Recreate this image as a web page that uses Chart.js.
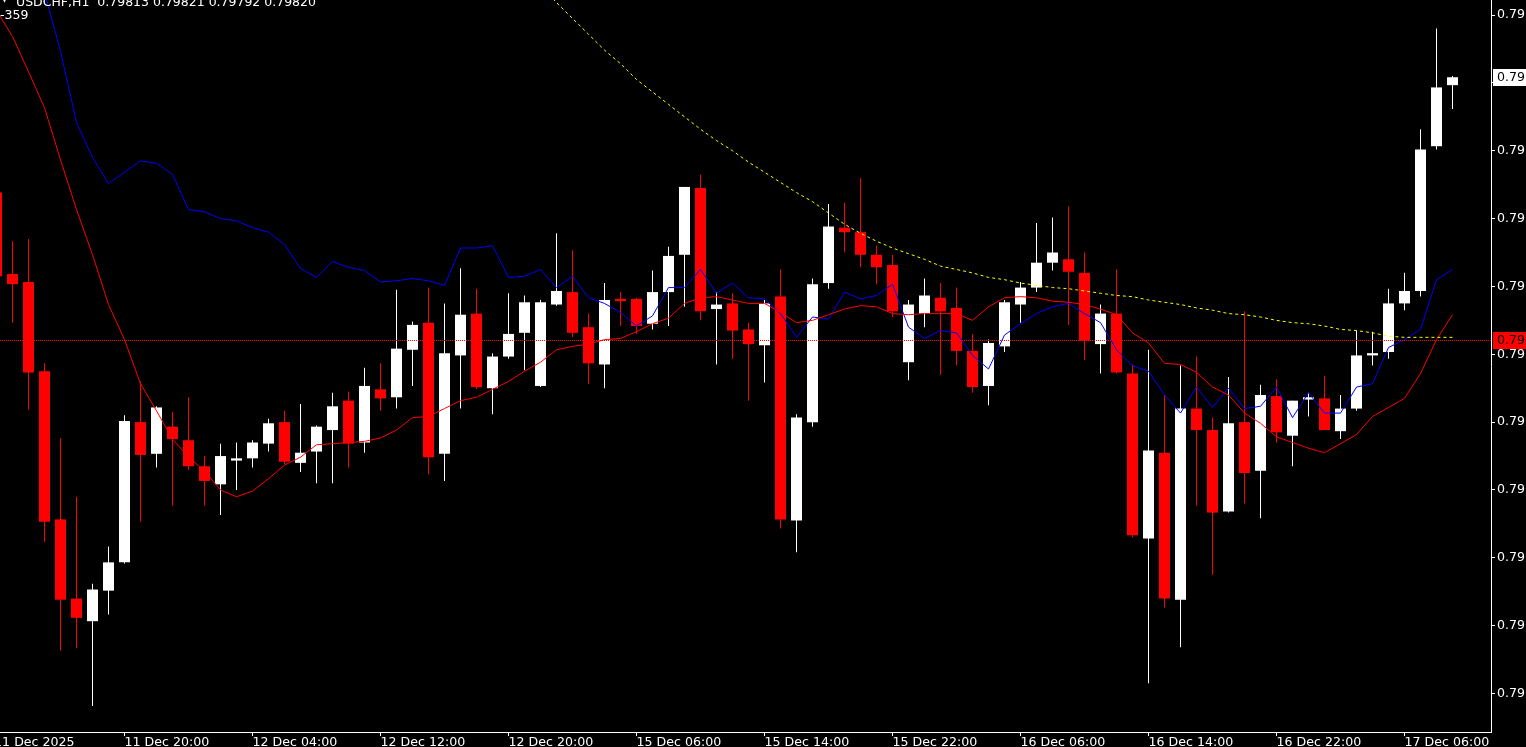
<!DOCTYPE html>
<html>
<head>
<meta charset="utf-8">
<title>USDCHF,H1</title>
<script src="https://cdn.jsdelivr.net/npm/chart.js@4.4.1/dist/chart.umd.min.js"></script>
<style>
html,body{margin:0;padding:0;background:#000;overflow:hidden;}
#wrap{position:relative;width:1526px;height:747px;}
canvas{display:block;}
</style>
</head>
<body>
<div id="wrap"><canvas id="chart" width="1526" height="747"></canvas></div>
<script>
// ---------------- data ----------------
const symbolLabel = 'USDCHF,H1';
const headerOHLC = ['0.79813', '0.79821', '0.79792', '0.79820'];
const subWindowText = '-359';

// hourly bars, index 0 = 11 Dec 12:00 ... index 91 = 17 Dec 09:00
const openPrices = [
  0.79718, 0.79646, 0.79639, 0.79560, 0.79429, 0.79359, 0.79339, 0.79366, 0.79391, 0.79515,
  0.79487, 0.79511, 0.79499, 0.79476, 0.79460, 0.79481, 0.79483, 0.79496, 0.79515, 0.79479,
  0.79489, 0.79508, 0.79534, 0.79497, 0.79544, 0.79537, 0.79579, 0.79603, 0.79487, 0.79574,
  0.79611, 0.79545, 0.79573, 0.79594, 0.79547, 0.79619, 0.79630, 0.79599, 0.79566, 0.79624,
  0.79624, 0.79602, 0.79630, 0.79663, 0.79722, 0.79615, 0.79620, 0.79597, 0.79583, 0.79626,
  0.79428, 0.79515, 0.79638, 0.79687, 0.79683, 0.79663, 0.79654, 0.79568, 0.79611, 0.79625,
  0.79616, 0.79578, 0.79547, 0.79582, 0.79619, 0.79634, 0.79656, 0.79659, 0.79647, 0.79584,
  0.79611, 0.79558, 0.79412, 0.79488, 0.79358, 0.79527, 0.79508, 0.79436, 0.79515, 0.79472,
  0.79538, 0.79503, 0.79535, 0.79536, 0.79507, 0.79527, 0.79574, 0.79577, 0.79620, 0.79631,
  0.79759, 0.79813
];
const highPrices = [
  0.79722, 0.79675, 0.79677, 0.79567, 0.79501, 0.79449, 0.79372, 0.79405, 0.79521, 0.79551,
  0.79529, 0.79524, 0.79537, 0.79485, 0.79496, 0.79497, 0.79499, 0.79518, 0.79525, 0.79531,
  0.79512, 0.79541, 0.79542, 0.79563, 0.79567, 0.79632, 0.79604, 0.79634, 0.79620, 0.79651,
  0.79633, 0.79576, 0.79629, 0.79627, 0.79623, 0.79682, 0.79667, 0.79611, 0.79638, 0.79630,
  0.79625, 0.79649, 0.79670, 0.79723, 0.79734, 0.79630, 0.79629, 0.79603, 0.79623, 0.79650,
  0.79522, 0.79642, 0.79708, 0.79709, 0.79731, 0.79671, 0.79663, 0.79623, 0.79642, 0.79638,
  0.79634, 0.79593, 0.79588, 0.79623, 0.79639, 0.79691, 0.79696, 0.79706, 0.79665, 0.79619,
  0.79650, 0.79566, 0.79579, 0.79539, 0.79565, 0.79573, 0.79519, 0.79555, 0.79613, 0.79548,
  0.79553, 0.79534, 0.79541, 0.79556, 0.79539, 0.79596, 0.79595, 0.79633, 0.79647, 0.79774,
  0.79863, 0.79821
];
const lowPrices = [
  0.79641, 0.79603, 0.79526, 0.79409, 0.79313, 0.79315, 0.79264, 0.79345, 0.79390, 0.79427,
  0.79475, 0.79441, 0.79473, 0.79441, 0.79433, 0.79455, 0.79475, 0.79489, 0.79478, 0.79471,
  0.79461, 0.79461, 0.79475, 0.79488, 0.79525, 0.79527, 0.79547, 0.79469, 0.79463, 0.79527,
  0.79544, 0.79522, 0.79571, 0.79561, 0.79546, 0.79618, 0.79590, 0.79549, 0.79545, 0.79600,
  0.79593, 0.79597, 0.79600, 0.79617, 0.79605, 0.79566, 0.79571, 0.79534, 0.79550, 0.79421,
  0.79400, 0.79511, 0.79633, 0.79665, 0.79652, 0.79637, 0.79608, 0.79552, 0.79599, 0.79557,
  0.79565, 0.79541, 0.79530, 0.79577, 0.79603, 0.79630, 0.79649, 0.79601, 0.79570, 0.79558,
  0.79558, 0.79413, 0.79284, 0.79351, 0.79316, 0.79441, 0.79380, 0.79435, 0.79443, 0.79430,
  0.79497, 0.79476, 0.79520, 0.79508, 0.79500, 0.79525, 0.79565, 0.79571, 0.79614, 0.79626,
  0.79756, 0.79792
];
const closePrices = [
  0.79644, 0.79637, 0.79559, 0.79427, 0.79358, 0.79342, 0.79367, 0.79391, 0.79516, 0.79486,
  0.79528, 0.79500, 0.79476, 0.79463, 0.79485, 0.79483, 0.79497, 0.79514, 0.79480, 0.79488,
  0.79511, 0.79529, 0.79496, 0.79547, 0.79536, 0.79580, 0.79601, 0.79484, 0.79576, 0.79610,
  0.79546, 0.79573, 0.79593, 0.79621, 0.79621, 0.79631, 0.79594, 0.79567, 0.79623, 0.79622,
  0.79600, 0.79630, 0.79662, 0.79723, 0.79613, 0.79619, 0.79596, 0.79584, 0.79620, 0.79429,
  0.79519, 0.79637, 0.79688, 0.79683, 0.79663, 0.79652, 0.79613, 0.79619, 0.79627, 0.79613,
  0.79578, 0.79546, 0.79585, 0.79621, 0.79634, 0.79656, 0.79665, 0.79648, 0.79587, 0.79611,
  0.79559, 0.79415, 0.79490, 0.79359, 0.79527, 0.79508, 0.79435, 0.79514, 0.79470, 0.79539,
  0.79506, 0.79534, 0.79537, 0.79508, 0.79527, 0.79574, 0.79576, 0.79620, 0.79631, 0.79756,
  0.79811, 0.79820
];
// red moving average
const redMA = [
  0.79879, 0.79856, 0.79825, 0.79793, 0.79747, 0.79703, 0.79663, 0.79619, 0.79588, 0.79549,
  0.79525, 0.79500, 0.79484, 0.79472, 0.79455, 0.79449, 0.79454, 0.79465, 0.79477, 0.79484,
  0.79495, 0.79496, 0.79497, 0.79498, 0.79501, 0.79508, 0.79519, 0.79520, 0.79527, 0.79534,
  0.79537, 0.79544, 0.79551, 0.79560, 0.79568, 0.79579, 0.79582, 0.79584, 0.79588, 0.79589,
  0.79595, 0.79602, 0.79607, 0.79620, 0.79625, 0.79626, 0.79623, 0.79620, 0.79620, 0.79612,
  0.79603, 0.79605, 0.79610, 0.79615, 0.79618, 0.79617, 0.79611, 0.79610, 0.79611, 0.79611,
  0.79611, 0.79605, 0.79617, 0.79625, 0.79626, 0.79625, 0.79622, 0.79621, 0.79619, 0.79615,
  0.79610, 0.79594, 0.79585, 0.79567, 0.79566, 0.79559, 0.79546, 0.79539, 0.79523, 0.79514,
  0.79502, 0.79497, 0.79492, 0.79488, 0.79496, 0.79504, 0.79520, 0.79528, 0.79536, 0.79558,
  0.79588, 0.79610
];
// blue moving average
const blueMA = [
  null,    null,    null,    0.79895, 0.79843, 0.79780, 0.79749, 0.79726, 0.79736, 0.79746,
  0.79744, 0.79734, 0.79703, 0.79701, 0.79695, 0.79693, 0.79687, 0.79683, 0.79672, 0.79651,
  0.79643, 0.79657, 0.79652, 0.79649, 0.79639, 0.79640, 0.79642, 0.79640, 0.79636, 0.79669,
  0.79669, 0.79671, 0.79643, 0.79644, 0.79650, 0.79634, 0.79644, 0.79625, 0.79620, 0.79612,
  0.79600, 0.79609, 0.79634, 0.79634, 0.79650, 0.79629, 0.79638, 0.79625, 0.79624, 0.79611,
  0.79590, 0.79608, 0.79606, 0.79630, 0.79624, 0.79627, 0.79637, 0.79599, 0.79589, 0.79596,
  0.79594, 0.79574, 0.79562, 0.79592, 0.79602, 0.79611, 0.79617, 0.79620, 0.79611, 0.79603,
  0.79579, 0.79565, 0.79560, 0.79539, 0.79523, 0.79546, 0.79528, 0.79545, 0.79527, 0.79529,
  0.79546, 0.79519, 0.79541, 0.79523, 0.79523, 0.79546, 0.79549, 0.79581, 0.79588, 0.79597,
  0.79641, 0.79650
];
// yellow dotted moving average
const yellowMA = [
  null, null, null, null, null, null, null, null, null, null,
  null, null, null, null, null, null, null, null, null, null,
  null, null, null, null, null, null, null, null, null, null,
  null, null, null, null, 0.79901, 0.79886, 0.79872, 0.79858, 0.79844, 0.79832,
  0.79818, 0.79807, 0.79796, 0.79785, 0.79774, 0.79764, 0.79755, 0.79745, 0.79736, 0.79727,
  0.79718, 0.79710, 0.79700, 0.79690, 0.79682, 0.79675, 0.79669, 0.79664, 0.79659, 0.79653,
  0.79650, 0.79647, 0.79643, 0.79641, 0.79638, 0.79636, 0.79634, 0.79633, 0.79631, 0.79629,
  0.79627, 0.79626, 0.79623, 0.79621, 0.79619, 0.79616, 0.79614, 0.79611, 0.79610, 0.79608,
  0.79605, 0.79603, 0.79602, 0.79600, 0.79597, 0.79596, 0.79594, 0.79591, 0.79590, 0.79590,
  0.79590, 0.79590
];
const horizontalLinePrice = 0.79588;
const lastBidPrice = 0.79820;
const priceBoxLabels = ['0.79', '0.79'];

// bar positions of the time labels (first label sits just left of the first visible bar)
const xTickBars = [-0.15, 8, 16, 24, 32, 40, 48, 56, 64, 72, 80, 88];
const xTickLabels = ['11 Dec 2025', '11 Dec 20:00', '12 Dec 04:00', '12 Dec 12:00', '12 Dec 20:00',
  '15 Dec 06:00', '15 Dec 14:00', '15 Dec 22:00', '16 Dec 06:00', '16 Dec 14:00', '16 Dec 22:00', '17 Dec 06:00'];
const yTickValues = [0.79875, 0.79815, 0.79755, 0.79695, 0.79635, 0.79575, 0.79515, 0.79455, 0.79395, 0.79335, 0.79275];
const yTickLabels = ['0.79', '0.79', '0.79', '0.79', '0.79', '0.79', '0.79', '0.79', '0.79', '0.79', '0.79'];

// ---------------- chart ----------------
const FONT = '"DejaVu Sans", Verdana, sans-serif';
const PLOT_RIGHT = 1491, PLOT_BOTTOM = 732;

const wickData = lowPrices.map((l, i) => ({x: i, y: [l, highPrices[i]]}));
const bodyData = openPrices.map((o, i) => ({x: i, y: [o, closePrices[i]]}));
const toLine = arr => arr.map((v, i) => ({x: i, y: v}));
const candleColor = ctx => (closePrices[ctx.dataIndex] >= openPrices[ctx.dataIndex] ? '#FFFFFF' : '#FF0000');

const background = {
  id: 'background',
  beforeDraw(chart) {
    const {ctx, width, height} = chart;
    ctx.save();
    ctx.fillStyle = '#000000';
    ctx.fillRect(0, 0, width, height);
    ctx.restore();
  }
};
const hLinePlugin = {
  id: 'hLine',
  afterDatasetsDraw(chart) {
    const {ctx, chartArea, scales} = chart;
    const py = Math.round(scales.y.getPixelForValue(horizontalLinePrice)) + 0.5;
    ctx.save();
    ctx.strokeStyle = '#FF0000';
    ctx.lineWidth = 1;
    ctx.setLineDash([1, 1]);
    ctx.beginPath();
    ctx.moveTo(chartArea.left, py);
    ctx.lineTo(chartArea.right, py);
    ctx.stroke();
    ctx.restore();
  }
};
const overlay = {
  id: 'overlay',
  afterDraw(chart) {
    const {ctx, chartArea, scales} = chart;
    const box = (price, bg, label) => {
      const py = Math.round(scales.y.getPixelForValue(price));
      ctx.fillStyle = bg;
      ctx.fillRect(chartArea.right + 2, py - 8, chart.width - chartArea.right - 2, 17);
      ctx.fillStyle = '#000000';
      ctx.font = '12.6px ' + FONT;
      ctx.textAlign = 'left';
      ctx.textBaseline = 'middle';
      ctx.fillText(label, chartArea.right + 6, py + 1);
    };
    ctx.save();
    box(lastBidPrice, '#FFFFFF', priceBoxLabels[0]);
    box(horizontalLinePrice, '#FF0000', priceBoxLabels[1]);
    // header
    ctx.fillStyle = '#FFFFFF';
    ctx.font = '12.5px ' + FONT;
    ctx.textAlign = 'left';
    ctx.textBaseline = 'alphabetic';
    ctx.fillText(symbolLabel + '  ' + headerOHLC.join(' '), 16, 6);
    ctx.fillText(subWindowText, 0, 19);
    ctx.beginPath();
    ctx.moveTo(1.8, -3);
    ctx.lineTo(7.2, -3);
    ctx.lineTo(4.5, 2.8);
    ctx.closePath();
    ctx.fill();
    ctx.restore();
  }
};

new Chart(document.getElementById('chart'), {
  type: 'bar',
  data: {
    datasets: [
      {type: 'line', label: 'MA yellow', data: toLine(yellowMA), borderColor: '#FFFF00', borderWidth: 1,
        borderDash: [3, 3], pointRadius: 0, tension: 0, order: 0},
      {type: 'line', label: 'MA red', data: toLine(redMA), borderColor: '#FF0000', borderWidth: 1,
        pointRadius: 0, tension: 0, order: 1},
      {type: 'line', label: 'MA blue', data: toLine(blueMA), borderColor: '#0000FF', borderWidth: 1,
        pointRadius: 0, tension: 0, order: 1},
      {label: 'Bodies', data: bodyData, backgroundColor: candleColor, borderWidth: 0, barThickness: 11,
        minBarLength: 1, grouped: false, inflateAmount: 0, order: 2},
      {label: 'Wicks', data: wickData, backgroundColor: candleColor, borderWidth: 0, barThickness: 1,
        grouped: false, inflateAmount: 0, order: 3}
    ]
  },
  options: {
    responsive: false,
    devicePixelRatio: 1,
    animation: false,
    events: [],
    layout: {padding: 0, autoPadding: false},
    plugins: {legend: {display: false}, tooltip: {enabled: false}},
    scales: {
      x: {
        type: 'linear',
        position: 'bottom',
        offset: false,
        bounds: 'data',
        min: 0.21875,
        max: 0.21875 + 1491 / 16,
        grid: {display: true, drawOnChartArea: false, drawTicks: true, tickLength: 4, color: '#FFFFFF', offset: false},
        border: {display: true, color: '#FFFFFF', width: 1},
        ticks: {
          autoSkip: false, maxRotation: 0, minRotation: 0, align: 'start', padding: -1, labelOffset: 0,
          color: '#FFFFFF', font: {family: FONT, size: 12.6},
          callback: (v, i) => xTickLabels[i]
        },
        afterBuildTicks: s => { s.ticks = xTickBars.map(v => ({value: v})); },
        afterFit: s => { s.height = 747 - PLOT_BOTTOM; s.paddingLeft = 0; s.paddingRight = 0; }
      },
      y: {
        type: 'linear',
        position: 'right',
        bounds: 'data',
        beginAtZero: false,
        min: 0.792410,
        max: 0.798883,
        grid: {display: true, drawOnChartArea: false, drawTicks: true, tickLength: 4, color: '#FFFFFF'},
        border: {display: true, color: '#FFFFFF', width: 1},
        ticks: {
          autoSkip: false, padding: 2, color: '#FFFFFF', font: {family: FONT, size: 12.6},
          callback: (v, i) => yTickLabels[i]
        },
        afterBuildTicks: s => { s.ticks = yTickValues.map(v => ({value: v})); },
        afterFit: s => { s.width = 1526 - PLOT_RIGHT; s.paddingTop = 0; s.paddingBottom = 0; }
      }
    }
  },
  plugins: [background, hLinePlugin, overlay]
});
</script>
</body>
</html>
